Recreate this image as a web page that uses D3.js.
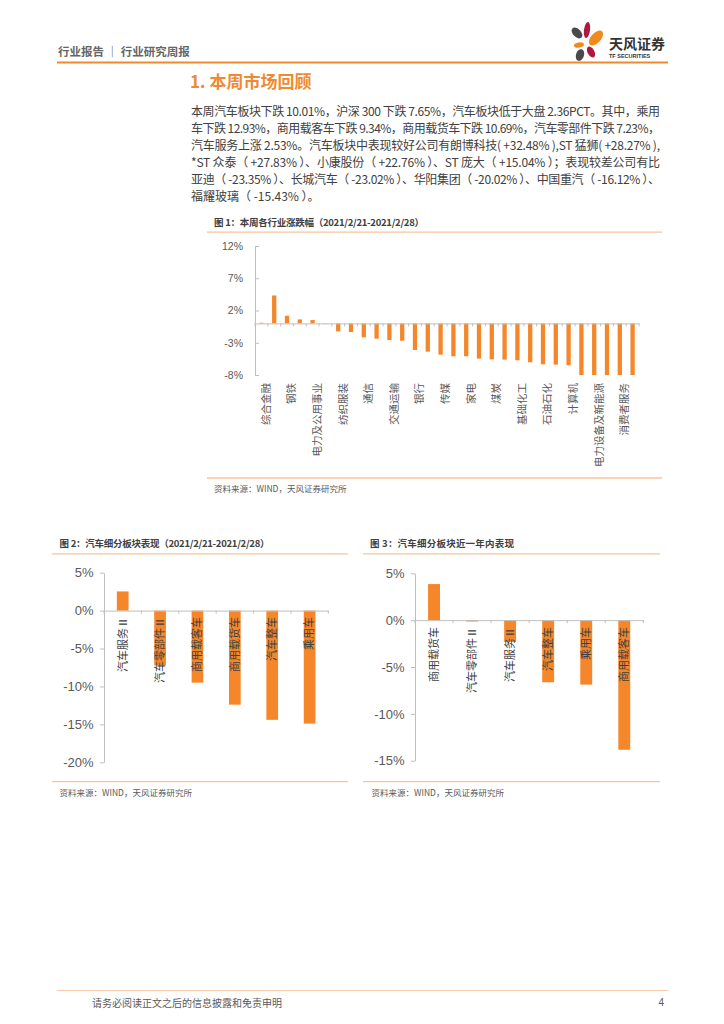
<!DOCTYPE html>
<html><head><meta charset="utf-8">
<script src="https://cdn.jsdelivr.net/npm/d3@7"></script>
<style>
html,body{margin:0;padding:0;background:#fff;}
svg{display:block;}
text{font-family:"Liberation Sans","Noto Sans CJK SC",sans-serif;}
.cjk{font-family:"Noto Sans CJK SC","Liberation Sans",sans-serif;}
</style></head>
<body>
<svg id="page" width="724" height="1024"></svg>
<script>
// ---------- DATA ----------
const industries = ["综合","综合金融","建筑","钢铁","建材","电力及公用事业","房地产","纺织服装","轻工制造","通信",
  "非银行金融","交通运输","农林牧渔","银行","有色金属","传媒","商贸零售","家电","机械","煤炭",
  "医药","基础化工","电子","石油石化","国防军工","计算机","食品饮料","电力设备及新能源","汽车","消费者服务"];
const industryChange = [0.1,4.33,1.19,0.62,0.52,0.05,-1.24,-1.34,-2.16,-2.37,
  -2.58,-2.68,-4.12,-4.38,-4.85,-5.1,-5.1,-5.46,-5.57,-5.62,
  -5.72,-6.03,-6.34,-6.39,-6.49,-8.6,-9.1,-9.4,-10.01,-10.6];
const industryTicks = [12,7,2,-3,-8];

const weekSectors = ["汽车服务Ⅱ","汽车零部件Ⅱ","商用载客车","商用载货车","汽车整车","乘用车"];
const weekChange = [2.53,-7.23,-9.5,-12.4,-14.4,-14.9];
const weekTicks = [5,0,-5,-10,-15,-20];

const yearSectors = ["商用载货车","汽车零部件Ⅱ","汽车服务Ⅱ","汽车整车","乘用车","商用载客车"];
const yearChange = [3.85,-0.14,-2.32,-6.63,-6.88,-13.83];
const yearTicks = [5,0,-5,-10,-15];

const paragraphLines = [
  "本周汽车板块下跌 10.01%，沪深 300 下跌 7.65%，汽车板块低于大盘 2.36PCT。其中，乘用",
  "车下跌 12.93%，商用载客车下跌 9.34%，商用载货车下跌 10.69%，汽车零部件下跌 7.23%，",
  "汽车服务上涨 2.53%。汽车板块中表现较好公司有朗博科技( +32.48% ),ST 猛狮( +28.27% ),",
  "*ST 众泰（ +27.83% ）、小康股份（ +22.76% ）、ST 庞大（ +15.04% ）；表现较差公司有比",
  "亚迪（ -23.35% ）、长城汽车（ -23.02% ）、华阳集团（ -20.02% ）、中国重汽（ -16.12% ）、",
  "福耀玻璃（ -15.43% ）。"
];

// ---------- PAGE ----------
const svg = d3.select("#page");
svg.append("rect").attr("width",724).attr("height",1024).attr("fill","#fff");

const ORANGE = "#F5872A";
const AXIS = "#BFBFBF";
const TXT = "#595959";
const RULE = "#F7C59B";

// header
svg.append("text").attr("class","cjk").attr("x",58).attr("y",51).attr("dominant-baseline","central")
  .attr("font-size",11.5).attr("font-weight","bold").attr("fill","#666")
  .text("行业报告 ｜ 行业研究周报");
svg.append("line").attr("x1",57).attr("x2",668).attr("y1",62.5).attr("y2",62.5)
  .attr("stroke","#F08A2E").attr("stroke-width",2);
// logo
const logo = svg.append("g");
[[577,33,4,6.5,-45,"#4a4a4a"],[587,30,3,8,8,"#B3163C"],[596,38,5,9,42,"#F08A1C"],
 [579,45,5,2.6,-8,"#F08A1C"],[591,52,3.4,6,-28,"#B3163C"],[580,55,4,6,18,"#4a4a4a"]]
 .forEach(p=>logo.append("ellipse").attr("cx",p[0]).attr("cy",p[1]).attr("rx",p[2]).attr("ry",p[3])
   .attr("transform",`rotate(${p[4]},${p[0]},${p[1]})`).attr("fill",p[5]));
svg.append("text").attr("class","cjk").attr("x",609).attr("y",43).attr("dominant-baseline","central")
  .attr("font-size",14).attr("font-weight","bold").attr("fill","#333").text("天风证券");
svg.append("text").attr("x",609).attr("y",56).attr("dominant-baseline","central")
  .attr("font-size",5.5).attr("font-weight","bold").attr("fill","#333").text("TF SECURITIES");

// heading
svg.append("text").attr("class","cjk").attr("x",190).attr("y",80).attr("dominant-baseline","central")
  .attr("font-size",17).attr("font-weight","bold").attr("fill","#F08A30").text("1. 本周市场回顾");

// paragraph
paragraphLines.forEach((t,i)=>{
  const el = svg.append("text").attr("class","cjk").attr("x",191).attr("y",110.7+i*16.9)
    .attr("dominant-baseline","central").attr("font-size",12).attr("fill","#404040").text(t);
  if(i<paragraphLines.length-1) el.attr("textLength",469).attr("lengthAdjust","spacing");
});

function titleBlock(x, y, text, lineX1, lineX2, width){
  const el = svg.append("text").attr("class","cjk").attr("x",x).attr("y",y).attr("dominant-baseline","central")
    .attr("font-size",9.5).attr("font-weight","bold").attr("fill","#404040").text(text);
  if(width) el.attr("textLength",width).attr("lengthAdjust","spacing");
  svg.append("line").attr("x1",lineX1).attr("x2",lineX2).attr("y1",y+10.5).attr("y2",y+10.5)
    .attr("stroke",RULE).attr("stroke-width",1.3);
}
function sourceBlock(x, y, lineX1, lineX2){
  svg.append("line").attr("x1",lineX1).attr("x2",lineX2).attr("y1",y-10).attr("y2",y-10)
    .attr("stroke",RULE).attr("stroke-width",1.3);
  svg.append("text").attr("class","cjk").attr("x",x).attr("y",y).attr("dominant-baseline","central")
    .attr("font-size",8.5).attr("fill",TXT).text("资料来源：WIND，天风证券研究所");
}

// ---------- CHART 1 ----------
titleBlock(214, 221.7, "图 1：本周各行业涨跌幅（2021/2/21-2021/2/28）", 207, 662, 210);
{
  const x = d3.scaleBand().domain(industries).range([255,639]).paddingInner(0.665).paddingOuter(0.3325);
  const y = d3.scaleLinear().domain([-8,12]).range([375,246]).clamp(true);
  const g = svg.append("g");
  // bars
  g.selectAll("rect.bar").data(industries).join("rect").attr("class","bar")
    .attr("x",d=>x(d)).attr("width",x.bandwidth())
    .attr("y",(d,i)=>Math.min(y(industryChange[i]),y(0)))
    .attr("height",(d,i)=>Math.abs(y(industryChange[i])-y(0)))
    .attr("fill",ORANGE);
  // y axis
  const ya = g.append("g").attr("transform","translate(255,0)")
    .call(d3.axisLeft(y).tickValues(industryTicks).tickFormat(d=>d+"%").tickSizeInner(-4).tickSizeOuter(0).tickPadding(12));
  ya.select(".domain").attr("stroke",AXIS);
  ya.selectAll(".tick line").attr("stroke",AXIS);
  ya.selectAll(".tick text").attr("fill",TXT).attr("font-size",10.5);
  // x axis
  const y0 = y(0);
  const xa = g.append("g").attr("transform",`translate(0,${y0})`)
    .call(d3.axisBottom(x).tickValues(industries.filter((d,i)=>i%2===1)).tickSize(0).tickSizeOuter(0));
  xa.select(".domain").attr("stroke",AXIS);
  xa.selectAll(".tick text").attr("class","cjk").attr("fill",TXT).attr("font-size",10.5)
    .attr("x",0).attr("y",0).attr("dy","0.35em").attr("text-anchor","end")
    .attr("transform",`translate(-8,${383-y0}) rotate(-90)`);
  // boundary ticks
  const bounds = d3.range(industries.length+1).map(i=>255+i*x.step());
  g.selectAll("line.bt").data(bounds).join("line").attr("class","bt")
    .attr("x1",d=>d).attr("x2",d=>d).attr("y1",y0).attr("y2",y0+3).attr("stroke",AXIS);
}
sourceBlock(214, 488, 207, 662);

// ---------- CHART 2 & 3 ----------
function subChart(cats, vals, ticks, domain, yr, xr, labelTop){
  const x = d3.scaleBand().domain(cats).range(xr).paddingInner(0.687).paddingOuter(0.3435);
  const y = d3.scaleLinear().domain(domain).range(yr);
  const g = svg.append("g");
  const y0 = y(0);
  g.selectAll("rect").data(cats).join("rect")
    .attr("x",d=>x(d)).attr("width",x.bandwidth())
    .attr("y",(d,i)=>Math.min(y(vals[i]),y0))
    .attr("height",(d,i)=>Math.abs(y(vals[i])-y0))
    .attr("fill",ORANGE);
  const ya = g.append("g").attr("transform",`translate(${xr[0]},0)`)
    .call(d3.axisLeft(y).tickValues(ticks).tickFormat(d=>d+"%").tickSizeInner(4).tickSizeOuter(0).tickPadding(6.5));
  ya.select(".domain").attr("stroke",AXIS);
  ya.selectAll(".tick line").attr("stroke",AXIS);
  ya.selectAll(".tick text").attr("fill",TXT).attr("font-size",13);
  const xa = g.append("g").attr("transform",`translate(0,${y0})`)
    .call(d3.axisBottom(x).tickSize(0).tickSizeOuter(0));
  xa.select(".domain").attr("stroke",AXIS);
  xa.selectAll(".tick text").attr("class","cjk").attr("fill","#404040").attr("font-size",11)
    .attr("x",0).attr("y",0).attr("dy","0.35em").attr("text-anchor","end")
    .attr("transform",`translate(0,${labelTop-y0}) rotate(-90)`);
  const bounds = d3.range(cats.length+1).map(i=>xr[0]+i*x.step());
  g.selectAll("line.bt").data(bounds).join("line").attr("class","bt")
    .attr("x1",d=>d).attr("x2",d=>d).attr("y1",y0).attr("y2",y0+3).attr("stroke",AXIS);
}
titleBlock(59.5, 543.3, "图 2：汽车细分板块表现（2021/2/21-2021/2/28）", 52, 348, 210);
subChart(weekSectors, weekChange, weekTicks, [-20,5], [762.3,572.7], [104,328.3], 617);
sourceBlock(59.5, 791.7, 52, 348);

titleBlock(370, 543.3, "图 3：汽车细分板块近一年内表现", 363, 660, 144);
subChart(yearSectors, yearChange, yearTicks, [-15,5], [760.7,573.3], [415,643.3], 627);
sourceBlock(371.5, 791.7, 363, 660);

// footer
svg.append("line").attr("x1",57).attr("x2",668).attr("y1",990.5).attr("y2",990.5).attr("stroke","#F8CBAD").attr("stroke-width",1);
svg.append("text").attr("class","cjk").attr("x",92).attr("y",1002).attr("dominant-baseline","central")
  .attr("font-size",10).attr("fill",TXT).text("请务必阅读正文之后的信息披露和免责申明");
svg.append("text").attr("x",664).attr("y",1002).attr("dominant-baseline","central").attr("text-anchor","end")
  .attr("font-size",10).attr("fill",TXT).text("4");
</script>
</body></html>
